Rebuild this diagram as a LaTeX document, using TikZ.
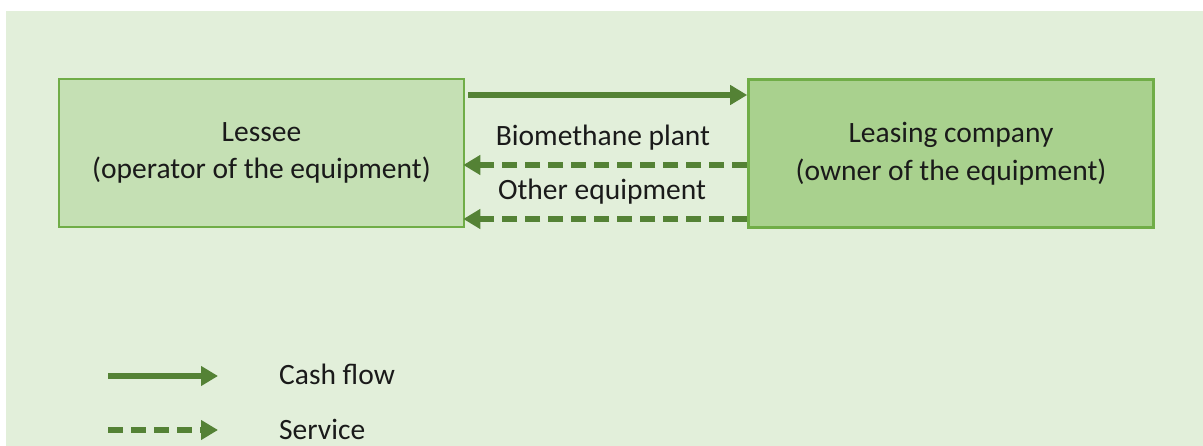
\documentclass[tikz,border=0pt]{standalone}
\usepackage{fontspec}
\setmainfont{Carlito}
\usetikzlibrary{arrows.meta}
\definecolor{bgGreen}{HTML}{E2EFDA}
\definecolor{lightBox}{HTML}{C5E0B4}
\definecolor{midBox}{HTML}{A9D18E}
\definecolor{boxEdge}{HTML}{70AD47}
\definecolor{flowGreen}{HTML}{548235}
\definecolor{txt}{HTML}{1A1A1A}
\tikzset{
  party/.style={draw=boxEdge, line width=2.6pt, minimum width=405pt, minimum height=148pt,
    align=center, font=\fontsize{29.5}{37.5}\selectfont, text=txt, inner sep=0pt},
  cashflow/.style={draw=flowGreen, line width=5.5pt, -{Triangle[length=17pt,width=19pt]}},
  serviceflow/.style={cashflow, dash pattern=on 15pt off 8pt},
  lbl/.style={font=\fontsize{29.5}{34}\selectfont, text=txt, inner sep=0pt}
}
\begin{document}
\begin{tikzpicture}[x=1pt,y=-1pt]
  \useasboundingbox (0,0) rectangle (1203,446);
  \fill[white] (0,0) rectangle (1203,446);
  \fill[bgGreen] (6,11) rectangle (1203,446);

  % parties
  \node[party, fill=lightBox] (lessee) at (261.5,153) {Lessee\\(operator of the equipment)};
  \node[party, fill=midBox] (lessor) at (951,153.5) {Leasing company\\(owner of the equipment)};

  % flows between the parties
  \coordinate (cashA) at (lessee.east |- 0,95);
  \coordinate (cashB) at (lessor.west |- 0,95);
  \draw[cashflow] ([xshift=3pt]cashA) -- (cashB);

  \coordinate (bioA) at (lessor.west |- 0,165);
  \coordinate (bioB) at (lessee.east |- 0,165);
  \draw[serviceflow] (bioA) -- ([xshift=-2pt]bioB);

  \coordinate (othA) at (lessor.west |- 0,219);
  \coordinate (othB) at (lessee.east |- 0,219);
  \draw[serviceflow] (othA) -- ([xshift=-2pt]othB);

  \node[lbl] (biolbl) at (603,138) {Biomethane plant};
  \node[lbl] (othlbl) at (602,192) {Other equipment};

  % legend
  \coordinate (k1a) at (108,376);
  \coordinate (k1b) at (218,376);
  \draw[cashflow] (k1a) -- (k1b);
  \node[lbl, anchor=west] (k1) at (279,374) {Cash flow};

  \coordinate (k2a) at (108,430);
  \coordinate (k2b) at (218,430);
  \draw[serviceflow] (k2a) -- (k2b);
  \node[lbl, anchor=west] (k2) at (279,429) {Service};
\end{tikzpicture}
\end{document}
